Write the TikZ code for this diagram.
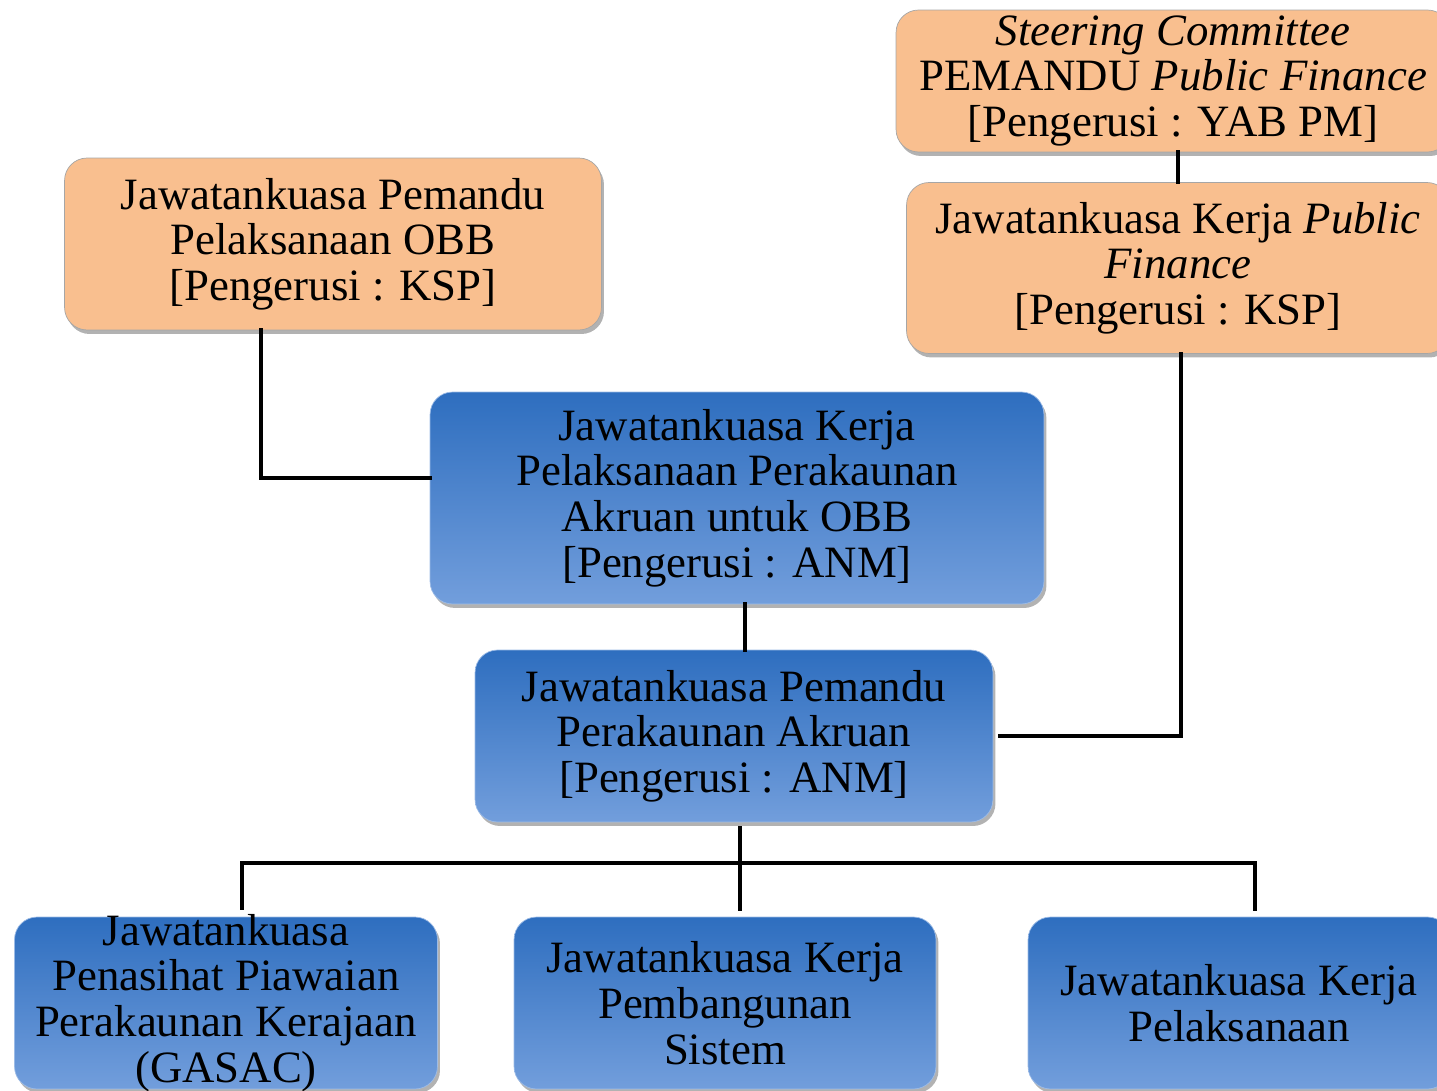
\documentclass[tikz,border=0pt]{standalone}
\usepackage{fontspec}
\setmainfont{Liberation Serif}
\usetikzlibrary{positioning,shadows}
\definecolor{pfOrange}{RGB}{249,191,143}
\definecolor{blueTop}{RGB}{46,110,191}
\definecolor{blueBot}{RGB}{114,158,220}

\begin{document}
\begin{tikzpicture}[x=0.02cm,y=-0.02cm,
        base/.style = {rectangle, rounded corners=0.45cm, thin, align=center, inner sep=0pt,
                       font=\fontsize{25.5}{26}\selectfont,
                       drop shadow={shadow xshift=0.05cm, shadow yshift=-0.08cm, opacity=0.3, fill=black}},
]
\tikzstyle{orangebox}=[base, fill=pfOrange, draw=black!35]
\tikzstyle{bluebox}=[base, top color=blueTop, bottom color=blueBot, draw=blueBot!70!white]
\tikzstyle{connect}=[line width=2.3pt, line cap=rect]

	\useasboundingbox (0,0) rectangle (1437,1091);
	\clip (0,0) rectangle (1437,1091);

	% top row
	\node[orangebox, minimum width=11.08cm, minimum height=2.84cm] (sc) at (1173,81)
		{\textit{Steering Committee}\\PEMANDU \textit{Public Finance}\\{[}Pengerusi : YAB PM{]}};
	\node[orangebox, minimum width=10.86cm, minimum height=3.42cm] (jkpf) at (1178,268)
		{Jawatankuasa Kerja \textit{Public}\\\textit{Finance}\\{[}Pengerusi : KSP{]}};
	\node[orangebox, minimum width=10.74cm, minimum height=3.44cm] (jpobb) at (333,244)
		{Jawatankuasa Pemandu\\Pelaksanaan OBB\\{[}Pengerusi : KSP{]}};

	% middle
	\node[bluebox, minimum width=12.28cm, minimum height=4.24cm] (jkpa) at (737,498)
		{Jawatankuasa Kerja\\Pelaksanaan Perakaunan\\Akruan untuk OBB\\{[}Pengerusi : ANM{]}};
	\node[bluebox, minimum width=10.36cm, minimum height=3.44cm] (jppa) at (734,736)
		{Jawatankuasa Pemandu\\Perakaunan Akruan\\{[}Pengerusi : ANM{]}};

	% bottom row
	\node[bluebox, minimum width=8.46cm, minimum height=3.44cm, inner ysep=-4.5pt] (gasac) at (226,1003)
		{Jawatankuasa\\Penasihat Piawaian\\Perakaunan Kerajaan\\(GASAC)};
	\node[bluebox, minimum width=8.44cm, minimum height=3.44cm] (pemb) at (725,1003)
		{Jawatankuasa Kerja\\Pembangunan\\Sistem};
	\node[bluebox, minimum width=8.44cm, minimum height=3.44cm] (pel) at (1239,1003)
		{Jawatankuasa Kerja\\Pelaksanaan};

	\coordinate (bus) at (740,863);

	\draw[connect] (jkpf.north) -- (jkpf.north |- sc.south);
	\draw[connect] ([xshift=-1.44cm]jpobb.south) |- ([yshift=0.4cm]jkpa.west);
	\draw[connect] ([xshift=0.06cm]jkpf.south) |- ([xshift=0.14cm]jppa.east);
	\draw[connect] ([xshift=0.16cm]jkpa.south) -- ([xshift=0.16cm]jkpa.south |- jppa.north);
	\draw[connect, shorten <=0.12cm, shorten >=0.16cm] ([xshift=0.12cm]jppa.south) -- ([xshift=0.12cm]jppa.south |- pemb.north);
	\draw[connect, shorten <=0.18cm, shorten >=0.16cm] ([xshift=0.32cm]gasac.north) |- (bus) -| ([xshift=0.32cm]pel.north);

\end{tikzpicture}
\end{document}
